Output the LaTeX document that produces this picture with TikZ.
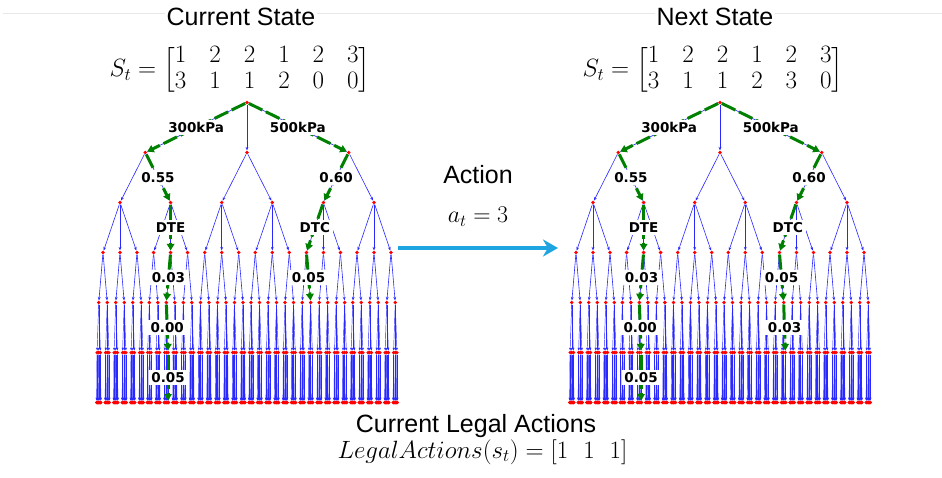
\RequirePackage{fix-cm}
\documentclass[tikz,border=0pt]{standalone}
\usepackage{amsmath}
\usepackage{fontspec}
\newfontfamily\arialfont{Liberation Sans}
\newfontfamily\labfont{DejaVu Sans}
\usetikzlibrary{arrows.meta}
\definecolor{edgeblue}{RGB}{40,40,255}
\definecolor{pathgreen}{RGB}{0,128,0}
\definecolor{actblue}{RGB}{30,165,225}
\definecolor{linegray}{RGB}{232,232,232}
\tikzset{
  dot/.style={circle,fill=red,inner sep=0pt,minimum size=3.8pt},
  sdot/.style={circle,fill=red,inner sep=0pt,minimum size=3.6pt},
  be/.style={draw=edgeblue,line width=0.6pt,-{Stealth[length=3.5pt,width=2.8pt]}},
  bel/.style={draw=edgeblue,line width=0.45pt,-{Stealth[length=2.8pt,width=2.2pt]}},
  ge/.style={draw=pathgreen,line width=3pt,dash pattern=on 15pt off 4pt,-{Triangle[length=6.5pt,width=7.5pt]}},
  lab/.style={fill=white,inner sep=2.5pt,font=\labfont\bfseries\fontsize{13.5}{15}\selectfont},
  titletext/.style={font=\arialfont\fontsize{25}{30}\selectfont,fill=white,inner xsep=2pt,inner ysep=0pt,anchor=base},
  mathtext/.style={inner sep=0pt},
  actarrow/.style={draw=actblue,line width=4pt,-{Stealth[length=15pt,width=17pt]}},
}
\newcommand\drawtree[2]{%
  \node[dot] (#1) at (#2,102.5) {};
  \foreach \ci in {1,2,3}{%
    \pgfmathsetmacro\xa{#2+(\ci-2)*101.7}%
    \node[dot] (#1-\ci) at (\xa,152.5) {};
    \draw[be] (#1) -- (#1-\ci);
    \foreach \cj in {1,2}{%
      \pgfmathsetmacro\xb{\xa+(\cj-1.5)*50.6}%
      \node[dot] (#1-\ci-\cj) at (\xb,202.5) {};
      \draw[be] (#1-\ci) -- (#1-\ci-\cj);
      \foreach \ck in {1,2,3}{%
        \pgfmathsetmacro\xc{\xb+(\ck-2)*17}%
        \node[dot] (#1-\ci-\cj-\ck) at (\xc,252.5) {};
        \draw[be] (#1-\ci-\cj) -- (#1-\ci-\cj-\ck);
        \foreach \cl in {1,2}{%
          \pgfmathsetmacro\xd{\xc+(\cl-1.5)*8.5}%
          \node[dot] (#1-\ci-\cj-\ck-\cl) at (\xd,302.5) {};
          \draw[be] (#1-\ci-\cj-\ck) -- (#1-\ci-\cj-\ck-\cl);
          \foreach \cm in {1,2,3}{%
            \pgfmathsetmacro\xe{\xd+(\cm-2)*1.7}%
            \node[sdot] (#1-\ci-\cj-\ck-\cl-\cm) at (\xe,352.5) {};
            \draw[bel] (#1-\ci-\cj-\ck-\cl) -- (#1-\ci-\cj-\ck-\cl-\cm);
            \foreach \cn in {1,2,3}{%
              \pgfmathsetmacro\xf{\xe+(\cn-2)*0.45}%
              \node[sdot] (#1-\ci-\cj-\ck-\cl-\cm-\cn) at (\xf,402.5) {};
              \draw[bel] (#1-\ci-\cj-\ck-\cl-\cm) -- (#1-\ci-\cj-\ck-\cl-\cm-\cn);
            }%
          }%
        }%
      }%
    }%
  }%
}
\newcommand\mainpaths[1]{%
  \draw[ge] (#1) -- node[lab] (#1lab1) {300kPa} (#1-1);
  \draw[ge] (#1) -- node[lab] (#1lab2) {500kPa} (#1-3);
  \draw[ge] (#1-1) -- node[lab] (#1lab3) {0.55} (#1-1-2);
  \draw[ge] (#1-1-2) -- node[lab] (#1lab4) {DTE} (#1-1-2-2);
  \draw[ge] (#1-1-2-2) -- node[lab] (#1lab5) {0.03} (#1-1-2-2-1);
  \draw[ge] (#1-1-2-2-1) -- node[lab] (#1lab6) {0.00} (#1-1-2-2-1-3);
  \draw[ge] (#1-1-2-2-1-3) -- node[lab] (#1lab7) {0.05} (#1-1-2-2-1-3-2);
  \draw[ge] (#1-3) -- node[lab] (#1lab8) {0.60} (#1-3-1);
  \draw[ge] (#1-3-1) -- node[lab] (#1lab9) {DTC} (#1-3-1-1);
  \draw[ge] (#1-3-1-1) -- node[lab] (#1lab10) {0.05} (#1-3-1-1-2);
}
\begin{document}
\begin{tikzpicture}[x=1pt,y=-1pt]
\useasboundingbox (0,0) rectangle (942,477);
\fill[white] (0,0) rectangle (942,477);
% faint top line
\coordinate (tl) at (3,13.5);
\coordinate (tr) at (942,13.5);
\draw[linegray,line width=1pt] (tl) -- (tr);
% titles
\node[titletext] (t1) at (241,25) {Current State};
\node[titletext] (t2) at (715,25) {Next State};
% matrices
\node[mathtext] (m1) at (240,70) {\fontsize{25}{28}\selectfont\setlength{\arraycolsep}{11.5pt}\renewcommand{\arraystretch}{0.95}$S_t=\Bigl[\begin{matrix}1&2&2&1&2&3\\3&1&1&2&0&0\end{matrix}\Bigr]$};
\node[mathtext] (m2) at (713,70) {\fontsize{25}{28}\selectfont\setlength{\arraycolsep}{11.5pt}\renewcommand{\arraystretch}{0.95}$S_t=\Bigl[\begin{matrix}1&2&2&1&2&3\\3&1&1&2&3&0\end{matrix}\Bigr]$};
% trees
\drawtree{L}{247}
\drawtree{R}{720}
\mainpaths{L}
\mainpaths{R}
\draw[ge] (R-3-1-1-2) -- node[lab] (Rlab11) {0.03} (R-3-1-1-2-3);
% action
\node[titletext,fill=none] (act) at (478,183) {Action};
\node[anchor=base,inner sep=0pt] (at) at (478,222.5) {\fontsize{24}{28}\selectfont $a_t=3$};
\coordinate (as) at (398,248);
\coordinate (ae) at (558,248);
\draw[actarrow] (as) -- (ae);
% legal actions
\node[titletext,fill=none] (cla) at (476,432) {Current Legal Actions};
\node[anchor=base,inner sep=0pt] (la) at (482.5,458) {\fontsize{25}{28}\selectfont $LegalActions(s_t)=[1\hspace{0.6em}1\hspace{0.6em}1]$};
\end{tikzpicture}
\end{document}
